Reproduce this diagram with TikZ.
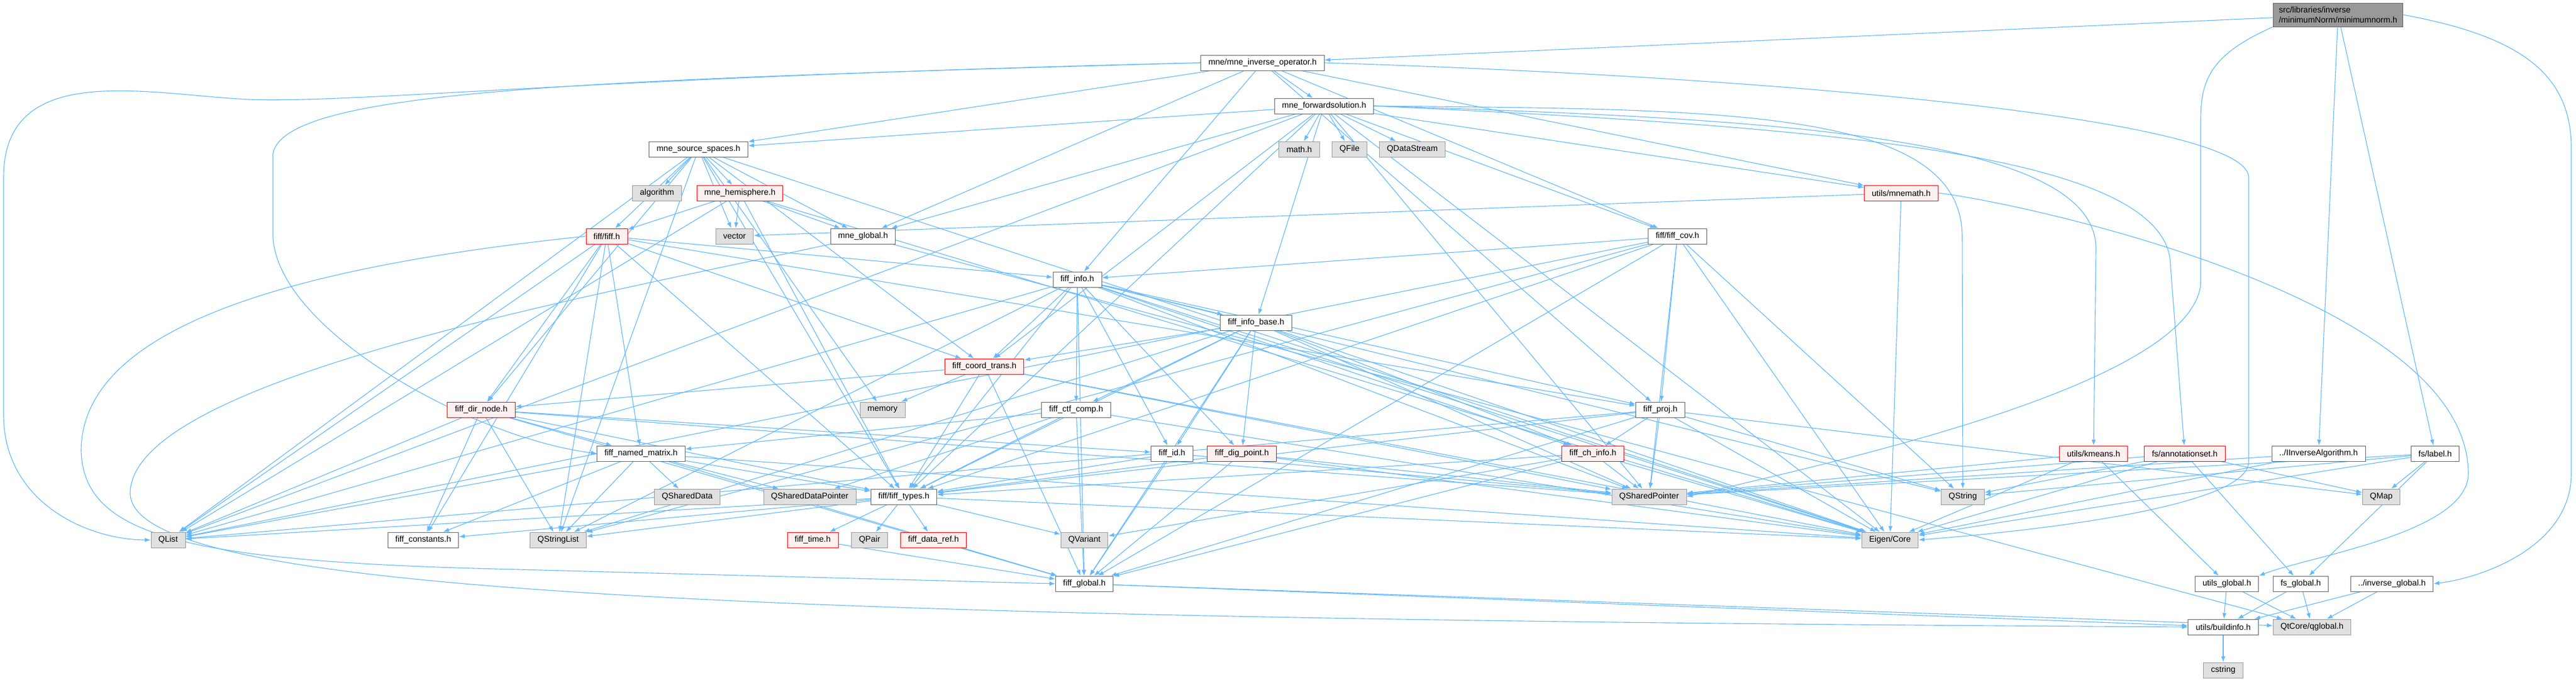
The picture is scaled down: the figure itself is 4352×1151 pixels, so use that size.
\documentclass[tikz,border=0pt]{standalone}
\usepackage{fontspec}
\setmainfont{Liberation Sans}
\usetikzlibrary{arrows.meta,backgrounds}
\definecolor{edgeblue}{RGB}{99,184,255}
\definecolor{boxline}{RGB}{102,102,102}
\definecolor{sysfill}{RGB}{224,224,224}
\definecolor{sysline}{RGB}{153,153,153}
\definecolor{redfill}{RGB}{255,240,240}
\definecolor{rootfill}{RGB}{153,153,153}
\tikzset{
	hdr/.style={draw=boxline, fill=white, line width=0.6pt, minimum height=0.65cm, inner xsep=9pt, inner ysep=2pt, font=\fontsize{10}{12}\selectfont},
	sys/.style={hdr, draw=sysline, fill=sysfill},
	part/.style={hdr, draw=red, fill=redfill},
	root/.style={hdr, fill=rootfill, align=left, minimum height=1cm, inner xsep=7pt},
	dep/.style={draw=edgeblue, line width=0.8pt, -{Latex[length=2.5mm,width=1.8mm]}}
}
\begin{document}
\begin{tikzpicture}[x=0.025cm, y=-0.025cm]
	\useasboundingbox (0,0) rectangle (4352,1151);

	% headers and system includes
	\node[root] (mn) at (3950,25) {src/libraries/inverse\\/minimumNorm/minimumnorm.h};
	\node[hdr] (inv) at (2133,106) {mne/mne\_inverse\_operator.h};
	\node[hdr] (fwd) at (2237,179) {mne\_forwardsolution.h};
	\node[hdr] (srcsp) at (1180,252) {mne\_source\_spaces.h};
	\node[sys] (mathh) at (2195,252) {math.h};
	\node[sys] (qfile) at (2280,252) {QFile};
	\node[sys] (qds) at (2386,252) {QDataStream};
	\node[sys] (algo) at (1110,326) {algorithm};
	\node[part] (hemi) at (1250,326) {mne\_hemisphere.h};
	\node[part] (mnemath) at (3212,326) {utils/mnemath.h};
	\node[part] (fiffh) at (1025,399) {fiff/fiff.h};
	\node[sys] (vec) at (1241,399) {vector};
	\node[hdr] (mneglob) at (1458,399) {mne\_global.h};
	\node[hdr] (cov) at (2834,399) {fiff/fiff\_cov.h};
	\node[hdr] (info) at (1820,472) {fiff\_info.h};
	\node[hdr] (infobase) at (2122,545) {fiff\_info\_base.h};
	\node[part] (coord) at (1663,619) {fiff\_coord\_trans.h};
	\node[sys] (memory) at (1491,692) {memory};
	\node[hdr] (ctf) at (1818,692) {fiff\_ctf\_comp.h};
	\node[hdr] (proj) at (2805,692) {fiff\_proj.h};
	\node[part] (dirnode) at (813,692) {fiff\_dir\_node.h};
	\node[hdr] (named) at (1083,766) {fiff\_named\_matrix.h};
	\node[hdr] (fid) at (1980,766) {fiff\_id.h};
	\node[part] (dig) at (2098,766) {fiff\_dig\_point.h};
	\node[part] (chinfo) at (2691,766) {fiff\_ch\_info.h};
	\node[part] (kmeans) at (3537,766) {utils/kmeans.h};
	\node[part] (annot) at (3691,766) {fs/annotationset.h};
	\node[hdr] (iinv) at (3917,766) {../IInverseAlgorithm.h};
	\node[hdr] (label) at (4114,766) {fs/label.h};
	\node[sys] (qshdata) at (1161,839) {QSharedData};
	\node[sys] (qshdp) at (1368,839) {QSharedDataPointer};
	\node[hdr] (types) at (1527,839) {fiff/fiff\_types.h};
	\node[sys] (qshp) at (2786,839) {QSharedPointer};
	\node[sys] (qstring) at (3316,839) {QString};
	\node[sys] (qmap) at (4023,839) {QMap};
	\node[sys] (qlist) at (284,912) {QList};
	\node[hdr] (consts) at (715,912) {fiff\_constants.h};
	\node[sys] (qsl) at (943,912) {QStringList};
	\node[part] (ftime) at (1373,912) {fiff\_time.h};
	\node[sys] (qpair) at (1469,912) {QPair};
	\node[part] (dataref) at (1577,912) {fiff\_data\_ref.h};
	\node[sys] (qvar) at (1832,912) {QVariant};
	\node[sys] (eigen) at (3193,912) {Eigen/Core};
	\node[hdr] (fglob) at (1832,986) {fiff\_global.h};
	\node[hdr] (uglob) at (3762,986) {utils\_global.h};
	\node[hdr] (fsglob) at (3887,986) {fs\_global.h};
	\node[hdr] (invglob) at (4041,986) {../inverse\_global.h};
	\node[hdr] (build) at (3756,1059) {utils/buildinfo.h};
	\node[sys] (qglobal) at (3906,1059) {QtCore/qglobal.h};
	\node[sys] (cstr) at (3756,1132) {cstring};

	\begin{scope}[on background layer]
	% minimumnorm.h
	\draw[dep] (mn) -- (inv);
	\draw[dep] (mn.south west) .. controls (3740,90) and (3718,130) .. (3718,200) -- (3718,480) .. controls (3700,650) and (3100,780) .. (qshp.east);
	\draw[dep] (mn) -- (iinv);
	\draw[dep] (mn) -- (label);
	\draw[dep] (mn.east) .. controls (4250,60) and (4344,120) .. (4344,250) -- (4344,800) .. controls (4344,920) and (4200,975) .. (invglob.east);
	% mne_inverse_operator.h
	\draw[dep] (inv) -- (srcsp);
	\draw[dep] (inv) -- (fwd);
	\draw[dep] (inv) -- (mneglob);
	\draw[dep] (inv.west) .. controls (1000,130) and (600,175) .. (420,168) .. controls (250,160) and (6,100) .. (6,300) -- (6,700) .. controls (6,850) and (150,912) .. (qlist.west);
	\draw[dep] (inv.west) .. controls (1000,135) and (480,150) .. (461,260) -- (461,400) .. controls (470,560) and (800,740) .. (named.west);
	\draw[dep] (inv) -- (info);
	\draw[dep] (inv) -- (cov);
	\draw[dep] (inv) -- (proj);
	\draw[dep] (inv) -- (mnemath);
	\draw[dep] (inv.east) .. controls (3000,130) and (3799,200) .. (3799,300) -- (3799,780) .. controls (3799,860) and (3400,900) .. (eigen.east);
	% mne_forwardsolution.h
	\draw[dep] (fwd) -- (srcsp);
	\draw[dep] (fwd) -- (mathh);
	\draw[dep] (fwd) -- (qfile);
	\draw[dep] (fwd) -- (qds);
	\draw[dep] (fwd) -- (mneglob);
	\draw[dep] (fwd) -- (cov);
	\draw[dep] (fwd) -- (mnemath);
	\draw[dep] (fwd) -- (infobase);
	\draw[dep] (fwd.east) .. controls (3000,200) and (3541,230) .. (3541,420) -- (kmeans.north);
	\draw[dep] (fwd.east) .. controls (3100,215) and (3667,260) .. (3667,450) -- (annot);
	\draw[dep] (fwd) -- (coord);
	\draw[dep] (fwd) -- (types);
	\draw[dep] (fwd) -- (eigen);
	\draw[dep] (fwd) -- (qshp);
	\draw[dep] (fwd) -- (qlist);
	\draw[dep] (fwd.east) .. controls (2900,185) and (3315,180) .. (3315,400) -- (qstring);
	% mne_source_spaces.h
	\draw[dep] (srcsp) -- (algo);
	\draw[dep] (srcsp) -- (hemi);
	\draw[dep] (srcsp) -- (mneglob);
	\draw[dep] (srcsp) -- (fiffh);
	\draw[dep] (srcsp) -- (dirnode);
	\draw[dep] (srcsp) -- (types);
	\draw[dep] (srcsp) -- (coord);
	\draw[dep] (srcsp) -- (qlist);
	\draw[dep] (srcsp) -- (vec);
	\draw[dep] (srcsp) -- (memory);
	\draw[dep] (srcsp) -- (eigen);
	\draw[dep] (srcsp) -- (qsl);
	% mne_hemisphere.h
	\draw[dep] (hemi) -- (vec);
	\draw[dep] (hemi) -- (mneglob);
	\draw[dep] (hemi) -- (fiffh);
	\draw[dep] (hemi) -- (types);
	\draw[dep] (hemi) -- (qlist);
	\draw[dep] (hemi) -- (eigen);
	% fiff/fiff.h
	\draw[dep] (fiffh) -- (dirnode);
	\draw[dep] (fiffh) -- (named);
	\draw[dep] (fiffh) -- (info);
	\draw[dep] (fiffh) -- (coord);
	\draw[dep] (fiffh) -- (proj);
	\draw[dep] (fiffh) -- (types);
	\draw[dep] (fiffh) -- (consts);
	\draw[dep] (fiffh) -- (qlist);
	\draw[dep] (fiffh) -- (qsl);
	\draw[dep] (fiffh.west) .. controls (500,450) and (140,550) .. (137,760) .. controls (140,900) and (300,945) .. (800,960) -- (fglob.west);
	% mne_global.h
	\draw[dep] (mneglob.south west) .. controls (1000,500) and (230,640) .. (220,830) .. controls (210,1000) and (1200,1045) .. (build.west);
	\draw[dep] (mneglob) -- (qglobal);
	% fiff/fiff_cov.h
	\draw[dep] (cov) -- (info);
	\draw[dep] (cov) -- (proj);
	\draw[dep] (cov) -- (types);
	\draw[dep] (cov) -- (eigen);
	\draw[dep] (cov) -- (qshp);
	\draw[dep] (cov) -- (qstring);
	\draw[dep] (cov) -- (qsl);
	\draw[dep] (cov) -- (fglob);
	\draw[dep] (cov) -- (qlist);
	% fiff_info.h
	\draw[dep] (info) -- (infobase);
	\draw[dep] (info) -- (coord);
	\draw[dep] (info) -- (ctf);
	\draw[dep] (info) -- (fid);
	\draw[dep] (info) -- (dig);
	\draw[dep] (info) -- (proj);
	\draw[dep] (info) -- (chinfo);
	\draw[dep] (info) -- (types);
	\draw[dep] (info) -- (fglob);
	\draw[dep] (info) -- (qsl);
	\draw[dep] (info) -- (qlist);
	\draw[dep] (info) -- (qshp);
	\draw[dep] (info) -- (eigen);
	\draw[dep] (info) -- (qstring);
	% fiff_info_base.h
	\draw[dep] (infobase) -- (coord);
	\draw[dep] (infobase) -- (ctf);
	\draw[dep] (infobase) -- (fid);
	\draw[dep] (infobase) -- (dig);
	\draw[dep] (infobase) -- (chinfo);
	\draw[dep] (infobase) -- (types);
	\draw[dep] (infobase) -- (fglob);
	\draw[dep] (infobase) -- (qsl);
	\draw[dep] (infobase) -- (qshp);
	\draw[dep] (infobase) -- (eigen);
	% fiff_coord_trans.h
	\draw[dep] (coord) -- (memory);
	\draw[dep] (coord) -- (dirnode);
	\draw[dep] (coord) -- (types);
	\draw[dep] (coord) -- (fglob);
	\draw[dep] (coord) -- (eigen);
	\draw[dep] (coord) -- (qshp);
	% fiff_ctf_comp.h
	\draw[dep] (ctf) -- (named);
	\draw[dep] (ctf) -- (types);
	\draw[dep] (ctf) -- (fglob);
	\draw[dep] (ctf) -- (eigen);
	\draw[dep] (ctf) -- (qshdp);
	% fiff_proj.h
	\draw[dep] (proj) -- (chinfo);
	\draw[dep] (proj) -- (types);
	\draw[dep] (proj) -- (qshp);
	\draw[dep] (proj) -- (qstring);
	\draw[dep] (proj) -- (eigen);
	\draw[dep] (proj) -- (fglob);
	\draw[dep] (proj) -- (qmap);
	\draw[dep] (proj) -- (qlist);
	% fiff_dir_node.h
	\draw[dep] (dirnode) -- (fid);
	\draw[dep] (dirnode) -- (types);
	\draw[dep] (dirnode) -- (qlist);
	\draw[dep] (dirnode) -- (consts);
	\draw[dep] (dirnode) -- (qsl);
	\draw[dep] (dirnode) -- (fglob);
	\draw[dep] (dirnode) -- (qshp);
	\draw[dep] (dirnode) -- (named);
	% fiff_named_matrix.h
	\draw[dep] (named) -- (consts);
	\draw[dep] (named) -- (qsl);
	\draw[dep] (named) -- (fglob);
	\draw[dep] (named) -- (qshdata);
	\draw[dep] (named) -- (qshdp);
	\draw[dep] (named) -- (types);
	\draw[dep] (named) -- (eigen);
	\draw[dep] (named) -- (qlist);
	% fiff_id.h, fiff_dig_point.h, fiff_ch_info.h
	\draw[dep] (fid) -- (types);
	\draw[dep] (fid) -- (fglob);
	\draw[dep] (fid) -- (qshp);
	\draw[dep] (dig) -- (types);
	\draw[dep] (dig) -- (fglob);
	\draw[dep] (dig) -- (qshp);
	\draw[dep] (dig) -- (eigen);
	\draw[dep] (chinfo) -- (types);
	\draw[dep] (chinfo) -- (fglob);
	\draw[dep] (chinfo) -- (qshp);
	\draw[dep] (chinfo) -- (eigen);
	\draw[dep] (chinfo) -- (qvar);
	% fiff/fiff_types.h
	\draw[dep] (types) -- (qlist);
	\draw[dep] (types) -- (consts);
	\draw[dep] (types) -- (qsl);
	\draw[dep] (types) -- (ftime);
	\draw[dep] (types) -- (qpair);
	\draw[dep] (types) -- (dataref);
	\draw[dep] (types) -- (qvar);
	\draw[dep] (types) -- (eigen);
	\draw[dep] (ftime) -- (fglob);
	\draw[dep] (dataref) -- (fglob);
	% utils and fs
	\draw[dep] (mnemath) -- (vec);
	\draw[dep] (mnemath) -- (eigen);
	\draw[dep] (mnemath.east) .. controls (3400,340) and (4170,500) .. (4170,800) .. controls (4170,900) and (3900,940) .. (uglob.north east);
	\draw[dep] (kmeans) -- (qshp);
	\draw[dep] (kmeans) -- (eigen);
	\draw[dep] (kmeans) -- (uglob);
	\draw[dep] (annot) -- (qshp);
	\draw[dep] (annot) -- (qstring);
	\draw[dep] (annot) -- (eigen);
	\draw[dep] (annot) -- (fsglob);
	\draw[dep] (annot) -- (qmap);
	\draw[dep] (label) -- (qshp);
	\draw[dep] (label) -- (qstring);
	\draw[dep] (label) -- (qmap);
	\draw[dep] (label) -- (fsglob);
	\draw[dep] (label) -- (eigen);
	\draw[dep] (iinv) -- (qshp);
	\draw[dep] (iinv) -- (eigen);
	% global headers
	\draw[dep] (fglob) -- (build);
	\draw[dep] (fglob) -- (qglobal);
	\draw[dep] (uglob) -- (build);
	\draw[dep] (uglob) -- (qglobal);
	\draw[dep] (fsglob) -- (build);
	\draw[dep] (fsglob) -- (qglobal);
	\draw[dep] (invglob) -- (build);
	\draw[dep] (invglob) -- (qglobal);
	\draw[dep] (build) -- (cstr);
	\end{scope}
\end{tikzpicture}
\end{document}
